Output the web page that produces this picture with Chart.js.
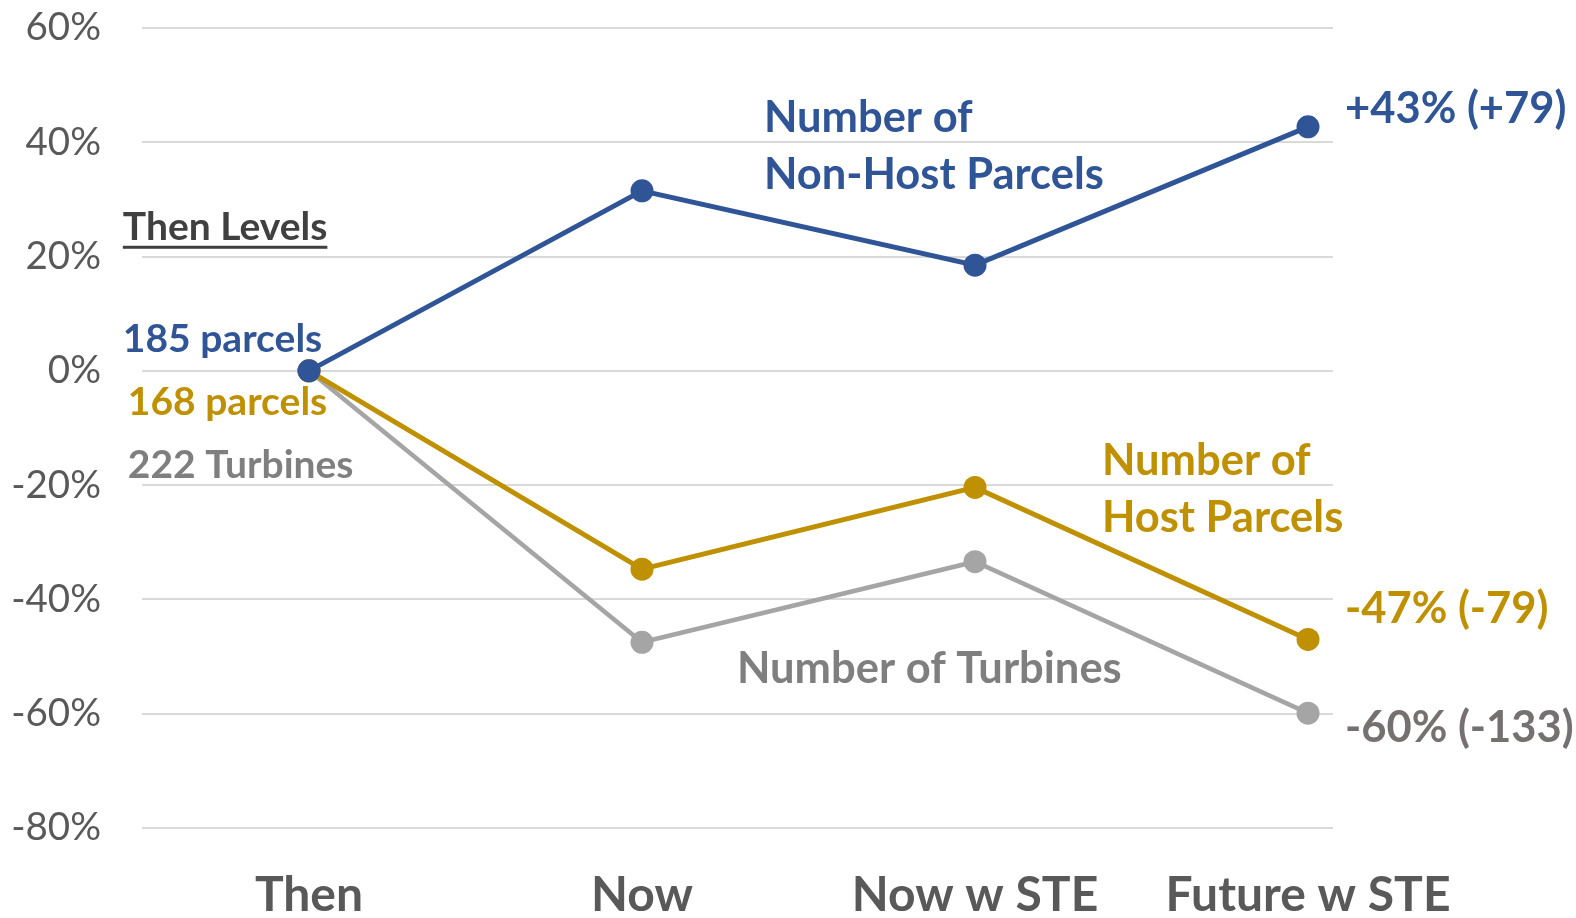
<!DOCTYPE html>
<html lang="en">

<head>
    <meta charset="UTF-8">
    <meta name="viewport" content="width=device-width, initial-scale=1.0">
    <title>Parcels and Turbines</title>
    <script src="https://cdn.jsdelivr.net/npm/chart.js"></script>

    <style>
        html, body {
            margin: 0;
            padding: 0;
            background: #ffffff;
        }

        .chart-container {
            position: relative;
            width: 1576px;
            height: 918px;
        }
    </style>

</head>

<body>

    <div class="chart-container">
        <canvas id="grafico"></canvas>
    </div>

    <script>

        // data (% change vs "Then")
        let categorias = ["Then", "Now", "Now w STE", "Future w STE"];
        let nonHost = [0, 31.5, 18.5, 42.7];
        let host = [0, -34.7, -20.4, -47.0];
        let turbines = [0, -47.5, -33.4, -59.9];
        let yTicks = [-80, -60, -40, -20, 0, 20, 40, 60];

        const azul = '#2F5597';
        const ouro = '#BF9000';
        const cinza = '#A5A5A5';

        // text labels, placed in data units (x = category index, y = %)
        let rotulos = [
            { text: 'Then Levels', color: '#404040', x: -0.559, y: 22.94, size: 39, underline: true, clear: 18 },
            { text: '185 parcels', color: azul, x: -0.559, y: 3.33, size: 39 },
            { text: '168 parcels', color: ouro, x: -0.544, y: -7.7, size: 39 },
            { text: '222 Turbines', color: '#7F7F7F', x: -0.544, y: -18.74, size: 39 },
            { text: 'Number of', color: azul, x: 1.366, y: 41.86 },
            { text: 'Non-Host Parcels', color: azul, x: 1.366, y: 31.87 },
            { text: '+43% (+79)', color: azul, x: 3.111, y: 43.43 },
            { text: 'Number of', color: ouro, x: 2.381, y: -18.21 },
            { text: 'Host Parcels', color: ouro, x: 2.381, y: -28.2 },
            { text: '-47% (-79)', color: ouro, x: 3.111, y: -44.13 },
            { text: '-60% (-133)', color: '#767171', x: 3.111, y: -64.97 },
            { text: 'Number of Turbines', color: '#7F7F7F', x: 1.285, y: -54.64 }
        ];

        function pontos(valores) {
            return valores.map((v, i) => ({ x: i, y: v }));
        }

        function serie(valores, cor, largura) {
            return {
                data: pontos(valores),
                borderColor: cor,
                backgroundColor: cor,
                borderWidth: largura,
                pointRadius: 11.5,
                pointHoverRadius: 11.5,
                pointBorderWidth: 0,
                tension: 0
            };
        }

        const rotulosPlugin = {
            id: 'rotulos',
            afterDatasetsDraw(chart) {
                const ctx = chart.ctx;
                const sx = chart.scales.x;
                const sy = chart.scales.y;
                ctx.save();
                rotulos.forEach(r => {
                    const size = r.size || 43.5;
                    ctx.font = 'bold ' + size + 'px Lato';
                    ctx.textAlign = 'left';
                    ctx.textBaseline = 'alphabetic';
                    const px = sx.getPixelForValue(r.x);
                    const py = sy.getPixelForValue(r.y);
                    const w = ctx.measureText(r.text).width;
                    if (r.clear) {
                        ctx.fillStyle = '#ffffff';
                        ctx.fillRect(px, py - size, w + r.clear, size * 1.4);
                    }
                    ctx.fillStyle = r.color;
                    ctx.fillText(r.text, px, py);
                    if (r.underline) {
                        ctx.fillRect(px, py + 6, w, 3);
                    }
                });
                ctx.restore();
            }
        };

        const ctx = document.getElementById('grafico');

        let grafico = new Chart(ctx, {
            type: 'line',
            data: {
                datasets: [
                    serie(nonHost, azul, 5),
                    serie(host, ouro, 5),
                    serie(turbines, cinza, 4.5)
                ]
            },
            options: {
                responsive: true,
                maintainAspectRatio: false,
                animation: false,
                events: [],
                layout: {
                    padding: { left: 0, top: 28, right: 243, bottom: 0 }
                },
                plugins: {
                    legend: { display: false },
                    tooltip: { enabled: false }
                },
                scales: {
                    x: {
                        type: 'linear',
                        min: -0.5015,
                        max: 3.075,
                        afterBuildTicks: s => {
                            s.ticks = categorias.map((c, i) => ({ value: i }));
                        },
                        afterFit: s => { s.height = 90; },
                        grid: { display: false },
                        border: { display: false },
                        ticks: {
                            autoSkip: false,
                            maxRotation: 0,
                            padding: 31,
                            color: '#595959',
                            font: { family: 'Lato', size: 48, weight: 'bold' },
                            callback: v => categorias[v]
                        }
                    },
                    y: {
                        min: -80,
                        max: 60,
                        afterBuildTicks: s => {
                            s.ticks = yTicks.map(v => ({ value: v }));
                        },
                        afterFit: s => {
                            s.width = 142;
                            s.paddingTop = 0;
                            s.paddingBottom = 0;
                        },
                        grid: {
                            color: '#D9D9D9',
                            lineWidth: 2,
                            drawTicks: false
                        },
                        border: { display: false },
                        ticks: {
                            padding: 41,
                            color: '#595959',
                            font: { family: 'Lato', size: 38.5 },
                            callback: v => v + '%'
                        }
                    }
                }
            },
            plugins: [rotulosPlugin]
        });

    </script>
</body>
</html>
